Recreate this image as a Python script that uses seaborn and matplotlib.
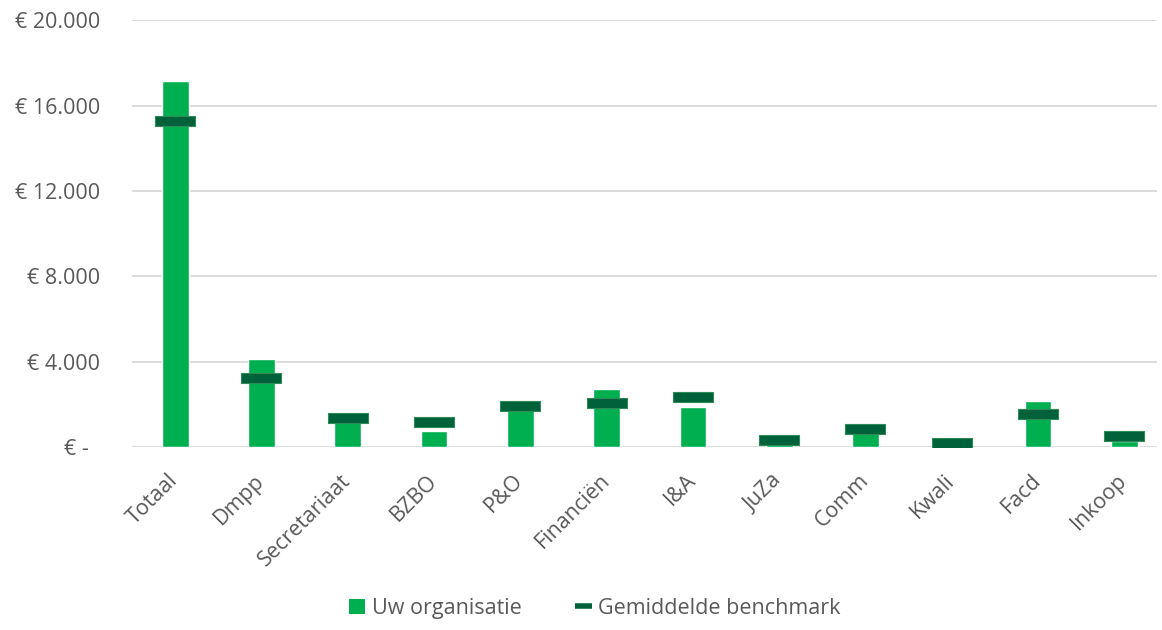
import matplotlib
matplotlib.use("Agg")
import matplotlib.pyplot as plt
from matplotlib.lines import Line2D
from matplotlib.patches import Patch
from matplotlib.ticker import FuncFormatter
import numpy as np
import pandas as pd
import seaborn as sns

# Kosten per afdeling (in euro)
categories = ["Totaal", "Dmpp", "Secretariaat", "BZBO", "P&O", "Financiën",
              "I&A", "JuZa", "Comm", "Kwali", "Facd", "Inkoop"]
organisatie = [17150, 4100, 1620, 750, 1950, 2720, 1890, 150, 850, 0, 2160, 280]
benchmark = [15270, 3220, 1360, 1170, 1940, 2050, 2330, 330, 830, 190, 1550, 500]
y_ticks = [0, 4000, 8000, 12000, 16000, 20000]

BAR_GREEN = "#00B050"
BENCH_GREEN = "#00613A"
TEXT = "#595959"
GRID = "#D9D9D9"

sns.set_theme(style="white")
plt.rcParams["font.family"] = ["Open Sans", "DejaVu Sans"]

df = pd.DataFrame({"afdeling": categories,
                   "organisatie": organisatie,
                   "benchmark": benchmark})

fig = plt.figure(figsize=(11.62, 6.3), dpi=100)
ax = fig.add_axes([0.1136, 0.2905, 0.8822, 0.6775])

sns.barplot(data=df, x="afdeling", y="organisatie", color=BAR_GREEN,
            saturation=1, width=0.31, ax=ax, zorder=2)

# benchmark as a short thick horizontal bar marker
bench_marker = [(-1, -0.23), (1, -0.23), (1, 0.23), (-1, 0.23), (-1, -0.23)]
sns.scatterplot(data=df, x="afdeling", y="benchmark", marker=bench_marker,
                s=29 ** 2, color=BENCH_GREEN, edgecolor="#2F8A5A",
                linewidth=0.8, ax=ax, zorder=3, legend=False)

ax.set_xlim(-0.5, 11.38)
ax.set_ylim(0, 20000)
ax.set_yticks(y_ticks)


def euro(v, pos):
    if v == 0:
        return "€ -  "
    return "€ " + f"{int(v):,}".replace(",", ".")


ax.yaxis.set_major_formatter(FuncFormatter(euro))
ax.grid(axis="y", color=GRID, linewidth=1.3, zorder=0)
ax.set_axisbelow(True)
for s in ax.spines.values():
    s.set_visible(False)
ax.set_xlabel("")
ax.set_ylabel("")
ax.tick_params(axis="y", length=0, pad=23, labelsize=15.5, labelcolor=TEXT)
ax.tick_params(axis="x", length=0, pad=22, labelsize=15.5, labelcolor=TEXT)
for lbl in ax.get_xticklabels():
    lbl.set_rotation(45)
    lbl.set_ha("right")
    lbl.set_va("center")
    lbl.set_rotation_mode("anchor")

handles = [
    Patch(facecolor=BAR_GREEN, edgecolor="none", label="Uw organisatie"),
    Line2D([0], [0], color=BENCH_GREEN, linewidth=4, solid_capstyle="butt",
           label="Gemiddelde benchmark"),
]
fig.legend(handles=handles, loc="center", bbox_to_anchor=(0.512, 0.034),
           ncol=2, frameon=False, fontsize=15.5, labelcolor=TEXT,
           handlelength=0.75, handleheight=0.75, handletextpad=0.3,
           columnspacing=2.5)

fig.savefig("out.png", dpi=100, facecolor="white")
